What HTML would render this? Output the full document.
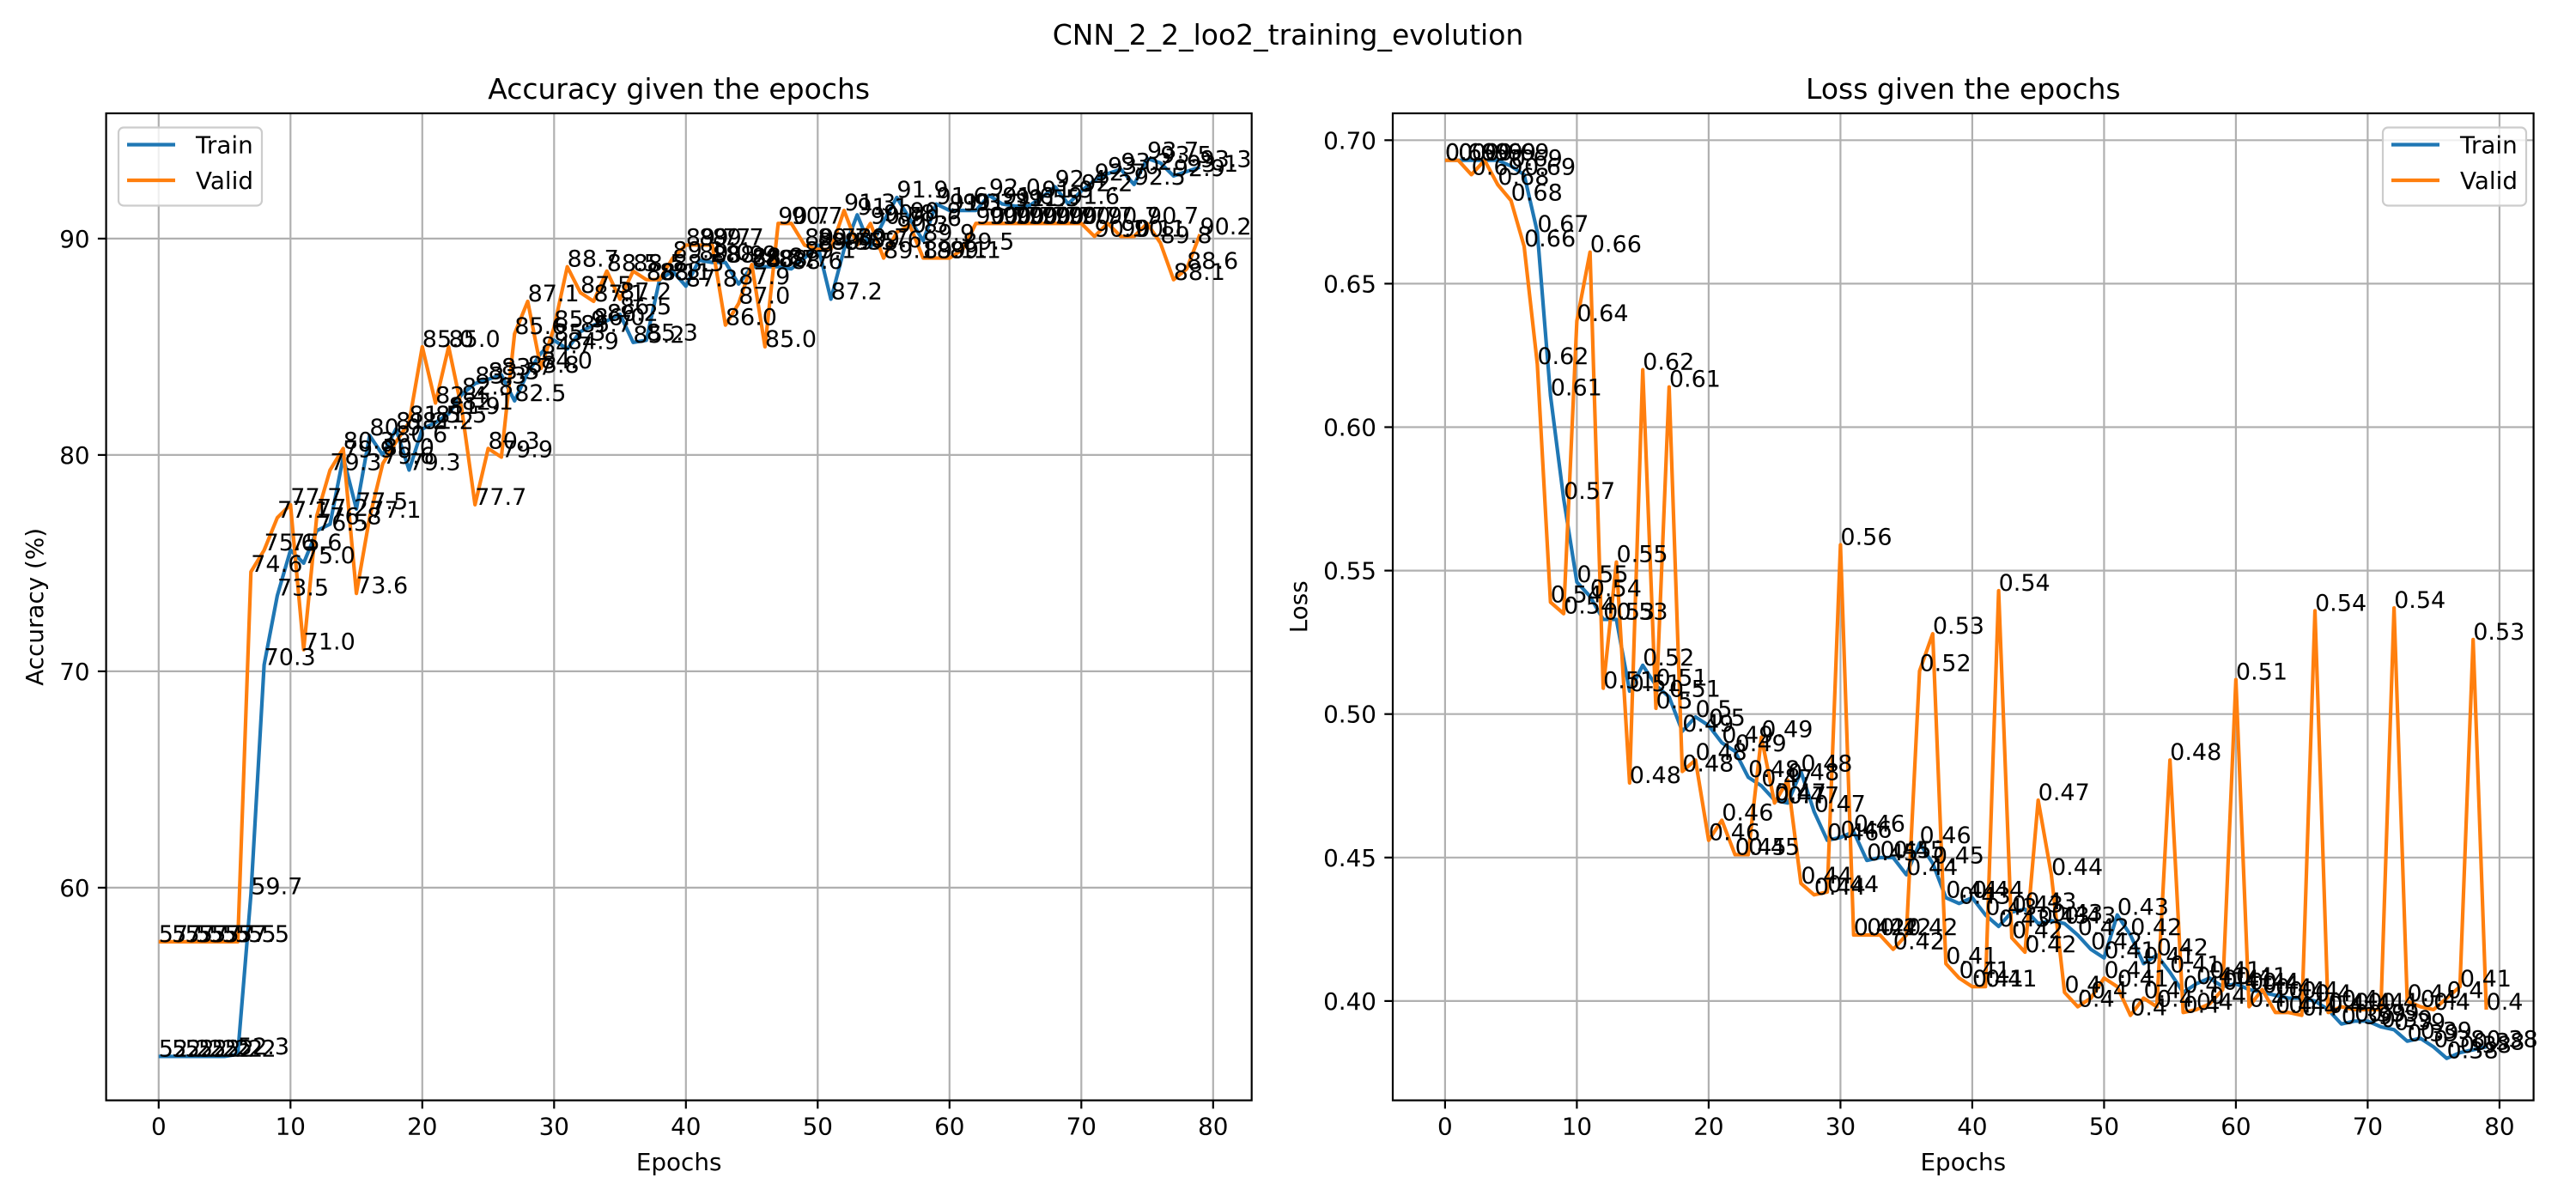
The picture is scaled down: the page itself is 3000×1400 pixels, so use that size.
<!DOCTYPE html>
<html><head><meta charset="utf-8"><style>
html,body{margin:0;padding:0;background:#fff}
svg{display:block;font-family:"DejaVu Sans","Liberation Sans",sans-serif}
</style></head><body>
<svg id="fig" width="3000" height="1400" viewBox="0 0 3000 1400" xmlns="http://www.w3.org/2000/svg">
<rect width="3000" height="1400" fill="#fff"/>
<text x="1500" y="52" font-size="33" text-anchor="middle">CNN_2_2_loo2_training_evolution</text>
<g id="left"></g>
<g id="right"></g>
</svg>
<script>
const epochs = Array.from({length:80},(_,i)=>i);
const accTrain = [52.2,52.2,52.2,52.2,52.2,52.2,52.3,59.7,70.3,73.5,75.6,75.0,76.5,76.8,79.9,77.5,80.9,80.0,81.2,79.3,81.2,81.5,81.9,82.8,83.3,83.5,83.7,82.5,83.8,84.7,85.3,84.9,85.7,86.0,86.2,86.5,85.2,85.3,88.1,88.5,87.8,89.0,88.9,88.9,87.9,88.7,88.7,88.7,88.6,89.1,89.7,87.2,89.5,91.1,89.6,90.8,91.9,90.9,89.9,91.6,91.3,91.3,91.3,92.0,91.6,91.5,91.5,91.9,92.4,91.6,92.2,92.7,93.0,93.2,92.5,93.7,93.5,92.9,93.1,93.3];
const accValid = [57.5,57.5,57.5,57.5,57.5,57.5,57.5,74.6,75.6,77.1,77.7,71.0,77.2,79.3,80.3,73.6,77.1,79.6,80.6,81.5,85.0,82.4,85.0,82.1,77.7,80.3,79.9,85.6,87.1,84.0,85.9,88.7,87.5,87.1,88.5,87.2,88.5,88.1,88.1,89.1,89.7,89.7,89.7,86.0,87.0,88.8,85.0,90.7,90.7,89.7,89.5,89.5,91.3,89.7,90.7,89.1,90.3,90.6,89.1,89.1,89.1,89.5,90.7,90.7,90.7,90.7,90.7,90.7,90.7,90.7,90.7,90.1,90.7,90.1,90.1,90.7,89.8,88.1,88.6,90.2];
const lossTrain = [0.693,0.693,0.693,0.693,0.693,0.691,0.688,0.668,0.611,0.575,0.546,0.541,0.533,0.533,0.508,0.517,0.510,0.506,0.494,0.499,0.496,0.490,0.487,0.478,0.475,0.470,0.469,0.480,0.466,0.456,0.457,0.459,0.449,0.450,0.450,0.444,0.455,0.448,0.436,0.434,0.436,0.430,0.426,0.431,0.432,0.427,0.428,0.427,0.423,0.418,0.415,0.430,0.423,0.413,0.416,0.410,0.403,0.406,0.408,0.405,0.406,0.404,0.403,0.402,0.401,0.401,0.400,0.397,0.392,0.393,0.393,0.391,0.390,0.386,0.387,0.384,0.380,0.382,0.383,0.384];
const lossValid = [0.693,0.693,0.688,0.693,0.6845,0.679,0.663,0.622,0.539,0.535,0.637,0.661,0.509,0.553,0.476,0.620,0.502,0.614,0.480,0.484,0.456,0.463,0.451,0.451,0.492,0.469,0.477,0.441,0.437,0.438,0.559,0.423,0.423,0.423,0.418,0.423,0.515,0.528,0.413,0.408,0.405,0.405,0.543,0.422,0.417,0.470,0.444,0.403,0.398,0.401,0.408,0.405,0.395,0.401,0.398,0.484,0.396,0.397,0.399,0.404,0.512,0.398,0.404,0.396,0.396,0.395,0.536,0.396,0.398,0.397,0.397,0.397,0.537,0.400,0.398,0.397,0.401,0.405,0.526,0.397];
const xTicks = [0,10,20,30,40,50,60,70,80];
const accTicks = [60,70,80,90];
const lossTicks = [0.40,0.45,0.50,0.55,0.60,0.65,0.70];

const NS="http://www.w3.org/2000/svg";
function mk(parent,tag,attrs,text){const e=document.createElementNS(NS,tag);for(const k in attrs)e.setAttribute(k,attrs[k]);if(text!==undefined)e.textContent=text;parent.appendChild(e);return e;}

function chart(g,cfg){
  const {L,T,R,B,x0,px,yf,yTicks,yFmt,train,valid,fmt,title,ylabel,legendX}=cfg;
  const xs=e=>x0+e*px;
  xTicks.forEach(t=>{const l=mk(g,'line',{x1:xs(t),x2:xs(t),y1:T,y2:B,stroke:'#b0b0b0','stroke-width':2.2});
    
    });
  yTicks.forEach(t=>{const l=mk(g,'line',{x1:L,x2:R,y1:yf(t),y2:yf(t),stroke:'#b0b0b0','stroke-width':2.2});
    
    });
  [[train,'#1f77b4','train-line'],[valid,'#ff7f0e','valid-line']].forEach(([d,c,n])=>{
    const p=mk(g,'polyline',{points:d.map((v,i)=>xs(epochs[i])+','+yf(v)).join(' '),fill:'none',stroke:c,'stroke-width':4.2,'stroke-linejoin':'round'});
    
    
  });
  [train,valid].forEach((d,si)=>d.forEach((v,i)=>{
    const t=mk(g,'text',{x:xs(epochs[i]),y:yf(v),'font-size':27},fmt(v));
    
    
  }));
  const f=mk(g,'rect',{x:L,y:T,width:R-L,height:B-T,fill:'none',stroke:'#000','stroke-width':2.2});
  
  
  xTicks.forEach(t=>{mk(g,'line',{x1:xs(t),x2:xs(t),y1:B,y2:B+9.7,stroke:'#000','stroke-width':2.2});
    const tl=mk(g,'text',{x:xs(t),y:B+40,'font-size':27.8,'text-anchor':'middle'},String(t));
    
    });
  yTicks.forEach(t=>{mk(g,'line',{x1:L-9.7,x2:L,y1:yf(t),y2:yf(t),stroke:'#000','stroke-width':2.2});
    const tl=mk(g,'text',{x:L-19,y:yf(t)+10,'font-size':27.8,'text-anchor':'end'},yFmt(t));
    
    });
  const tt=mk(g,'text',{x:(L+R)/2,y:T-17,'font-size':33,'text-anchor':'middle'},title);
  
  
  const xl=mk(g,'text',{x:(L+R)/2,y:1363,'font-size':27.8,'text-anchor':'middle'},'Epochs');
  
  
  const ylx=cfg.ylx, ylc=(T+B)/2;
  const yl=mk(g,'text',{x:ylx,y:ylc,'font-size':27.8,'text-anchor':'middle',transform:`rotate(-90 ${ylx} ${ylc})`},ylabel);
  
  
  const lg=mk(g,'g',{});
  
  
  mk(lg,'rect',{x:legendX,y:148.5,width:167,height:91,rx:6,fill:'#fff','fill-opacity':0.8,stroke:'#cccccc','stroke-width':2.2});
  [['Train','#1f77b4',168.5],['Valid','#ff7f0e',210]].forEach(([n,c,y])=>{
    const e=mk(lg,'g',{});
    
    
    mk(e,'line',{x1:legendX+10,x2:legendX+66,y1:y,y2:y,stroke:c,'stroke-width':4.2});
    mk(e,'text',{x:legendX+90,y:y+10,'font-size':27.8},n);
  });
}
chart(document.getElementById('left'),{L:123.6,T:132,R:1457.7,B:1281.6,x0:184.8,px:15.35,
  yf:v=>277.9+(90-v)*25.2,yTicks:accTicks,yFmt:t=>String(t),train:accTrain,valid:accValid,
  fmt:v=>v.toFixed(1),title:'Accuracy given the epochs',ylabel:'Accuracy (%)',ylx:50,legendX:138});
chart(document.getElementById('right'),{L:1622,T:132,R:2950.6,B:1281.6,x0:1682.9,px:15.35,
  yf:v=>163.3+(0.70-v)*3342,yTicks:lossTicks,yFmt:t=>t.toFixed(2),train:lossTrain,valid:lossValid,
  fmt:v=>String(Number(v.toFixed(2))),title:'Loss given the epochs',ylabel:'Loss',ylx:1522,legendX:2775});
</script>
</body></html>
